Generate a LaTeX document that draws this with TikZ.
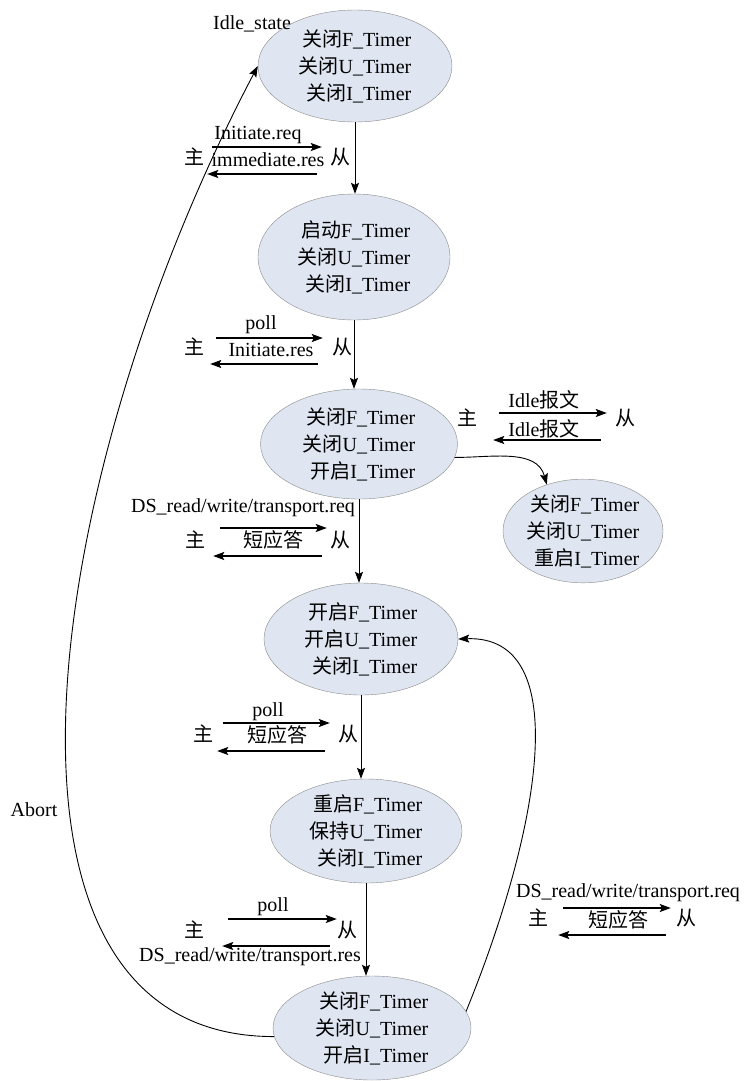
\documentclass[tikz,border=0pt]{standalone}
\usepackage{fontspec}
\setmainfont{Liberation Serif}
\newfontfamily\cjk{Noto Sans CJK SC}
\usepackage{xcolor}
\definecolor{stfill}{HTML}{DFE6F2}
\definecolor{stline}{HTML}{8A8A8A}
\usepackage{tikz}
\usetikzlibrary{arrows.meta, shapes.geometric, positioning, calc}
\newcommand{\zh}[1]{{\cjk #1}}

\tikzset{
  state/.style={ellipse, draw=stline, fill=stfill, inner sep=0pt, align=right,
    font=\fontsize{20}{27}\selectfont},
  lbl/.style={inner sep=0pt, font=\fontsize{20}{24}\selectfont},
  conn/.style={-{Stealth[length=11pt,width=8pt,inset=2pt]}, line width=0.9pt},
  msg/.style={-{Stealth[length=11pt,width=8pt,inset=2pt]}, line width=1.3pt},
}

\begin{document}
\begin{tikzpicture}[x=1pt, y=-1pt]
  \useasboundingbox (0,0) rectangle (746,1081);

  % Zustaende (Ellipsen), von oben nach unten
  \node[state, minimum width=194pt, minimum height=112pt] (idle) at (355,66)
    {\zh{关闭}F\_Timer\\\zh{关闭}U\_Timer\\\zh{关闭}I\_Timer};
  \node[state, minimum width=192pt, minimum height=126pt] (fstart) at (354,257)
    {\zh{启动}F\_Timer\\\zh{关闭}U\_Timer\\\zh{关闭}I\_Timer};
  \node[state, minimum width=197pt, minimum height=110pt] (ion) at (359,444)
    {\zh{关闭}F\_Timer\\\zh{关闭}U\_Timer\\\zh{开启}I\_Timer};
  \node[state, minimum width=160pt, minimum height=100pt] (irestart) at (583,531)
    {\zh{关闭}F\_Timer\\\zh{关闭}U\_Timer\\\zh{重启}I\_Timer};
  \node[state, minimum width=194pt, minimum height=112pt] (fuon) at (361,639)
    {\zh{开启}F\_Timer\\\zh{开启}U\_Timer\\\zh{关闭}I\_Timer};
  \node[state, minimum width=192pt, minimum height=104pt] (fre) at (366,831)
    {\zh{重启}F\_Timer\\\zh{保持}U\_Timer\\\zh{关闭}I\_Timer};
  \node[state, minimum width=198pt, minimum height=104pt] (ion2) at (372,1028)
    {\zh{关闭}F\_Timer\\\zh{关闭}U\_Timer\\\zh{开启}I\_Timer};

  \node[lbl] (idlelbl) at (252,24) {Idle\_state};
  \node[lbl] (abortlbl) at (34,810) {Abort};

  % Uebergaenge
  \draw[conn] (idle.south) -- (idle.south |- fstart.north);
  \draw[conn] (fstart.south) -- (fstart.south |- ion.north);
  \draw[conn] (ion.south) -- (ion.south |- fuon.north);
  \draw[conn] (fuon.south) -- (fuon.south |- fre.north);
  \draw[conn] (fre.south) -- (fre.south |- ion2.north);
  \draw[conn] (ion.-8) to[out=0, in=105] (irestart.128);
  \draw[conn] (ion2.10) .. controls (540,830) and (575,635) .. (fuon.east);
  \draw[conn] (ion2.185) .. controls (-40,1037) and (40,480) .. (idle.west);

  % Initiate.req / immediate.res
  \node[lbl] (zhu1) at (194,157) {\zh{主}};
  \node[lbl] (cong1) at (340,157) {\zh{从}};
  \draw[msg] ([xshift=8pt,yshift=10pt]zhu1.east) -- ([xshift=-8pt,yshift=10pt]cong1.west);
  \draw[msg] ([xshift=-13pt,yshift=-17pt]cong1.west) -- ([xshift=3pt,yshift=-17pt]zhu1.east);
  \node[lbl] (m1a) at (258,135) {Initiate.req};
  \node[lbl] (m1b) at (268,160) {immediate.res};

  % poll / Initiate.res
  \node[lbl] (zhu2) at (194,347) {\zh{主}};
  \node[lbl] (cong2) at (342,347) {\zh{从}};
  \draw[msg] ([xshift=12pt,yshift=9pt]zhu2.east) -- ([xshift=-9pt,yshift=9pt]cong2.west);
  \draw[msg] ([xshift=-14pt,yshift=-17pt]cong2.west) -- ([xshift=6pt,yshift=-17pt]zhu2.east);
  \node[lbl] (m2a) at (261,325) {poll};
  \node[lbl] (m2b) at (271,350) {Initiate.res};

  % Idle报文 hin und zurueck
  \node[lbl] (zhu3) at (467,418) {\zh{主}};
  \node[lbl] (cong3) at (625,418) {\zh{从}};
  \draw[msg] ([xshift=22pt,yshift=5pt]zhu3.east) -- ([xshift=-8pt,yshift=5pt]cong3.west);
  \draw[msg] ([xshift=-14pt,yshift=-22pt]cong3.west) -- ([xshift=16pt,yshift=-22pt]zhu3.east);
  \node[lbl] (m3a) at (544,400) {Idle\zh{报文}};
  \node[lbl] (m3b) at (544,429) {Idle\zh{报文}};

  % DS_read/write/transport.req / 短应答
  \node[lbl] (zhu4) at (195,540) {\zh{主}};
  \node[lbl] (cong4) at (340,540) {\zh{从}};
  \draw[msg] ([xshift=15pt,yshift=12pt]zhu4.east) -- ([xshift=-3pt,yshift=12pt]cong4.west);
  \draw[msg] ([xshift=-8pt,yshift=-16pt]cong4.west) -- ([xshift=8pt,yshift=-16pt]zhu4.east);
  \node[lbl] (m4a) at (243,508) {DS\_read/write/transport.req};
  \node[lbl] (m4b) at (273,540) {\zh{短应答}};

  % poll / 短应答
  \node[lbl] (zhu5) at (203,734) {\zh{主}};
  \node[lbl] (cong5) at (348,734) {\zh{从}};
  \draw[msg] ([xshift=10pt,yshift=11pt]zhu5.east) -- ([xshift=-8pt,yshift=11pt]cong5.west);
  \draw[msg] ([xshift=-13pt,yshift=-17pt]cong5.west) -- ([xshift=4pt,yshift=-17pt]zhu5.east);
  \node[lbl] (m5a) at (268,712) {poll};
  \node[lbl] (m5b) at (277,735) {\zh{短应答}};

  % poll / DS_read/write/transport.res
  \node[lbl] (zhu6) at (194,930) {\zh{主}};
  \node[lbl] (cong6) at (347,930) {\zh{从}};
  \draw[msg] ([xshift=24pt,yshift=11pt]zhu6.east) -- ([yshift=11pt]cong6.west);
  \draw[msg] ([xshift=-7pt,yshift=-16pt]cong6.west) -- ([xshift=18pt,yshift=-16pt]zhu6.east);
  \node[lbl] (m6a) at (273,907) {poll};
  \node[lbl] (m6b) at (250,957) {DS\_read/write/transport.res};

  % rechts: DS_read/write/transport.req / 短应答
  \node[lbl] (zhu7) at (538,918) {\zh{主}};
  \node[lbl] (cong7) at (686,918) {\zh{从}};
  \draw[msg] ([xshift=15pt,yshift=10pt]zhu7.east) -- ([xshift=-5pt,yshift=10pt]cong7.west);
  \draw[msg] ([xshift=-10pt,yshift=-17pt]cong7.west) -- ([xshift=10pt,yshift=-17pt]zhu7.east);
  \node[lbl] (m7a) at (628,893) {DS\_read/write/transport.req};
  \node[lbl] (m7b) at (618,920) {\zh{短应答}};
\end{tikzpicture}
\end{document}
